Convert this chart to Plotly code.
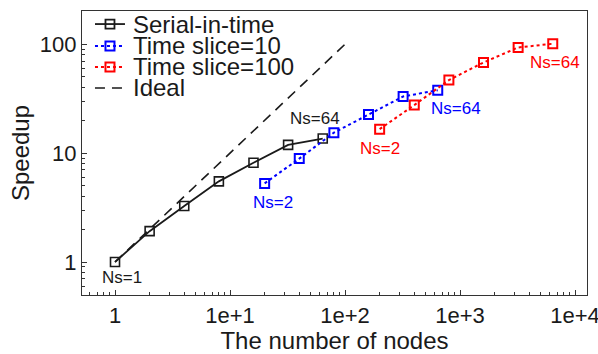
import math
import plotly.graph_objects as go

# ---- data ----
serial_x = [1, 2, 4, 8, 16, 32, 64]
serial_y = [1.0, 1.92, 3.27, 5.5, 8.15, 11.9, 13.6]

ts10_x = [20, 40, 80, 160, 320, 640]
ts10_y = [5.27, 8.9, 15.4, 22.6, 33.1, 37.8]

ts100_x = [200, 400, 800, 1600, 3200, 6400]
ts100_y = [16.6, 27.6, 46.8, 68.0, 93.3, 101.0]

ideal_x = [1, 100]
ideal_y = [1, 100]

legend_names = ["Serial-in-time", "Time slice=10", "Time slice=100", "Ideal"]

x_tickvals = [1, 10, 100, 1000, 10000]
x_ticktext = ["1", "1e+1", "1e+2", "1e+3", "1e+4"]
y_tickvals = [1, 10, 100]
y_ticktext = ["1", "10", "100"]

BLACK = "#1a1a1a"
BLUE = "#0000ff"
RED = "#ff0000"
FONT = "Liberation Sans, Arial, sans-serif"

fig = go.Figure()

fig.add_trace(go.Scatter(x=ideal_x, y=ideal_y, mode="lines",
                         line=dict(color=BLACK, width=1.6, dash="10px,7px"),
                         showlegend=False))
fig.add_trace(go.Scatter(x=serial_x, y=serial_y, mode="lines+markers",
                         line=dict(color=BLACK, width=1.8),
                         marker=dict(symbol="square-open", size=9, color=BLACK,
                                     line=dict(width=1.6)),
                         showlegend=False))
fig.add_trace(go.Scatter(x=ts10_x, y=ts10_y, mode="lines+markers",
                         line=dict(color=BLUE, width=2, dash="dot"),
                         marker=dict(symbol="square-open", size=9, color=BLUE,
                                     line=dict(width=2)),
                         showlegend=False))
fig.add_trace(go.Scatter(x=ts100_x, y=ts100_y, mode="lines+markers",
                         line=dict(color=RED, width=2, dash="dot"),
                         marker=dict(symbol="square-open", size=9, color=RED,
                                     line=dict(width=2)),
                         showlegend=False))

# ---- manual legend (drawn on an overlay axis in unit coordinates) ----
leg_rows = [0.954, 0.877, 0.803, 0.729]
leg_x0, leg_x1, leg_xm, leg_tx = 0.0257, 0.0851, 0.0554, 0.097
leg_styles = [
    dict(color=BLACK, width=1.8, dash="solid", marker=True),
    dict(color=BLUE, width=2, dash="dot", marker=True),
    dict(color=RED, width=2, dash="dot", marker=True),
    dict(color=BLACK, width=1.6, dash="10px,7px", marker=False),
]
for name, yy, st in zip(legend_names, leg_rows, leg_styles):
    fig.add_trace(go.Scatter(x=[leg_x0, leg_x1], y=[yy, yy], mode="lines",
                             line=dict(color=st["color"], width=st["width"], dash=st["dash"]),
                             xaxis="x2", yaxis="y2", showlegend=False, hoverinfo="skip"))
    if st["marker"]:
        fig.add_trace(go.Scatter(x=[leg_xm], y=[yy], mode="markers",
                                 marker=dict(symbol="square-open", size=9, color=st["color"],
                                             line=dict(width=st["width"])),
                                 xaxis="x2", yaxis="y2", showlegend=False, hoverinfo="skip"))
    fig.add_annotation(x=leg_tx, y=yy, xref="paper", yref="paper", text=name,
                       showarrow=False, xanchor="left", yanchor="middle",
                       font=dict(size=24, color=BLACK, family=FONT))

# ---- point labels ----
labels = [
    (serial_x[0], serial_y[0], "Ns=1", BLACK, 7, -15),
    (serial_x[-1], serial_y[-1], "Ns=64", BLACK, -8, 20),
    (ts10_x[0], ts10_y[0], "Ns=2", BLUE, 8, -19),
    (ts10_x[-1], ts10_y[-1], "Ns=64", BLUE, 18, -18),
    (ts100_x[0], ts100_y[0], "Ns=2", RED, 0, -19),
    (ts100_x[-1], ts100_y[-1], "Ns=64", RED, 2, -19),
]
for x, y, t, c, dx, dy in labels:
    fig.add_annotation(x=math.log10(x), y=math.log10(y), text=t, showarrow=False,
                       xshift=dx, yshift=dy, xanchor="center", yanchor="middle",
                       font=dict(size=17, color=c, family=FONT))

axis_common = dict(
    showline=True, linecolor="#333333", linewidth=1.2, mirror=True,
    ticks="inside", ticklen=5, tickwidth=1, tickcolor="#333333",
    showgrid=False, zeroline=False, automargin=False,
    tickfont=dict(size=22, color=BLACK, family=FONT),
    ticklabeloverflow="allow",
    minor=dict(ticks="inside", ticklen=3, tickwidth=1, tickcolor="#333333",
               dtick="D1", showgrid=False),
)

fig.update_layout(
    width=598, height=354,
    margin=dict(l=82, r=11, t=11, b=59),
    paper_bgcolor="white", plot_bgcolor="white",
    font=dict(family=FONT, color=BLACK),
    xaxis=dict(type="log", range=[-0.287, 4.104], tickmode="array",
               tickvals=x_tickvals, ticktext=x_ticktext,
               title=dict(text="The number of nodes", font=dict(size=24, color=BLACK, family=FONT),
                          standoff=14),
               **axis_common),
    yaxis=dict(type="log", range=[-0.303, 2.305], tickmode="array",
               tickvals=y_tickvals, ticktext=y_ticktext,
               title=dict(text="Speedup", font=dict(size=24, color=BLACK, family=FONT),
                          standoff=3),
               **axis_common),
    xaxis2=dict(overlaying="x", range=[0, 1], visible=False, fixedrange=True),
    yaxis2=dict(overlaying="y", range=[0, 1], visible=False, fixedrange=True),
    showlegend=False,
)

fig.write_html("out.html")
